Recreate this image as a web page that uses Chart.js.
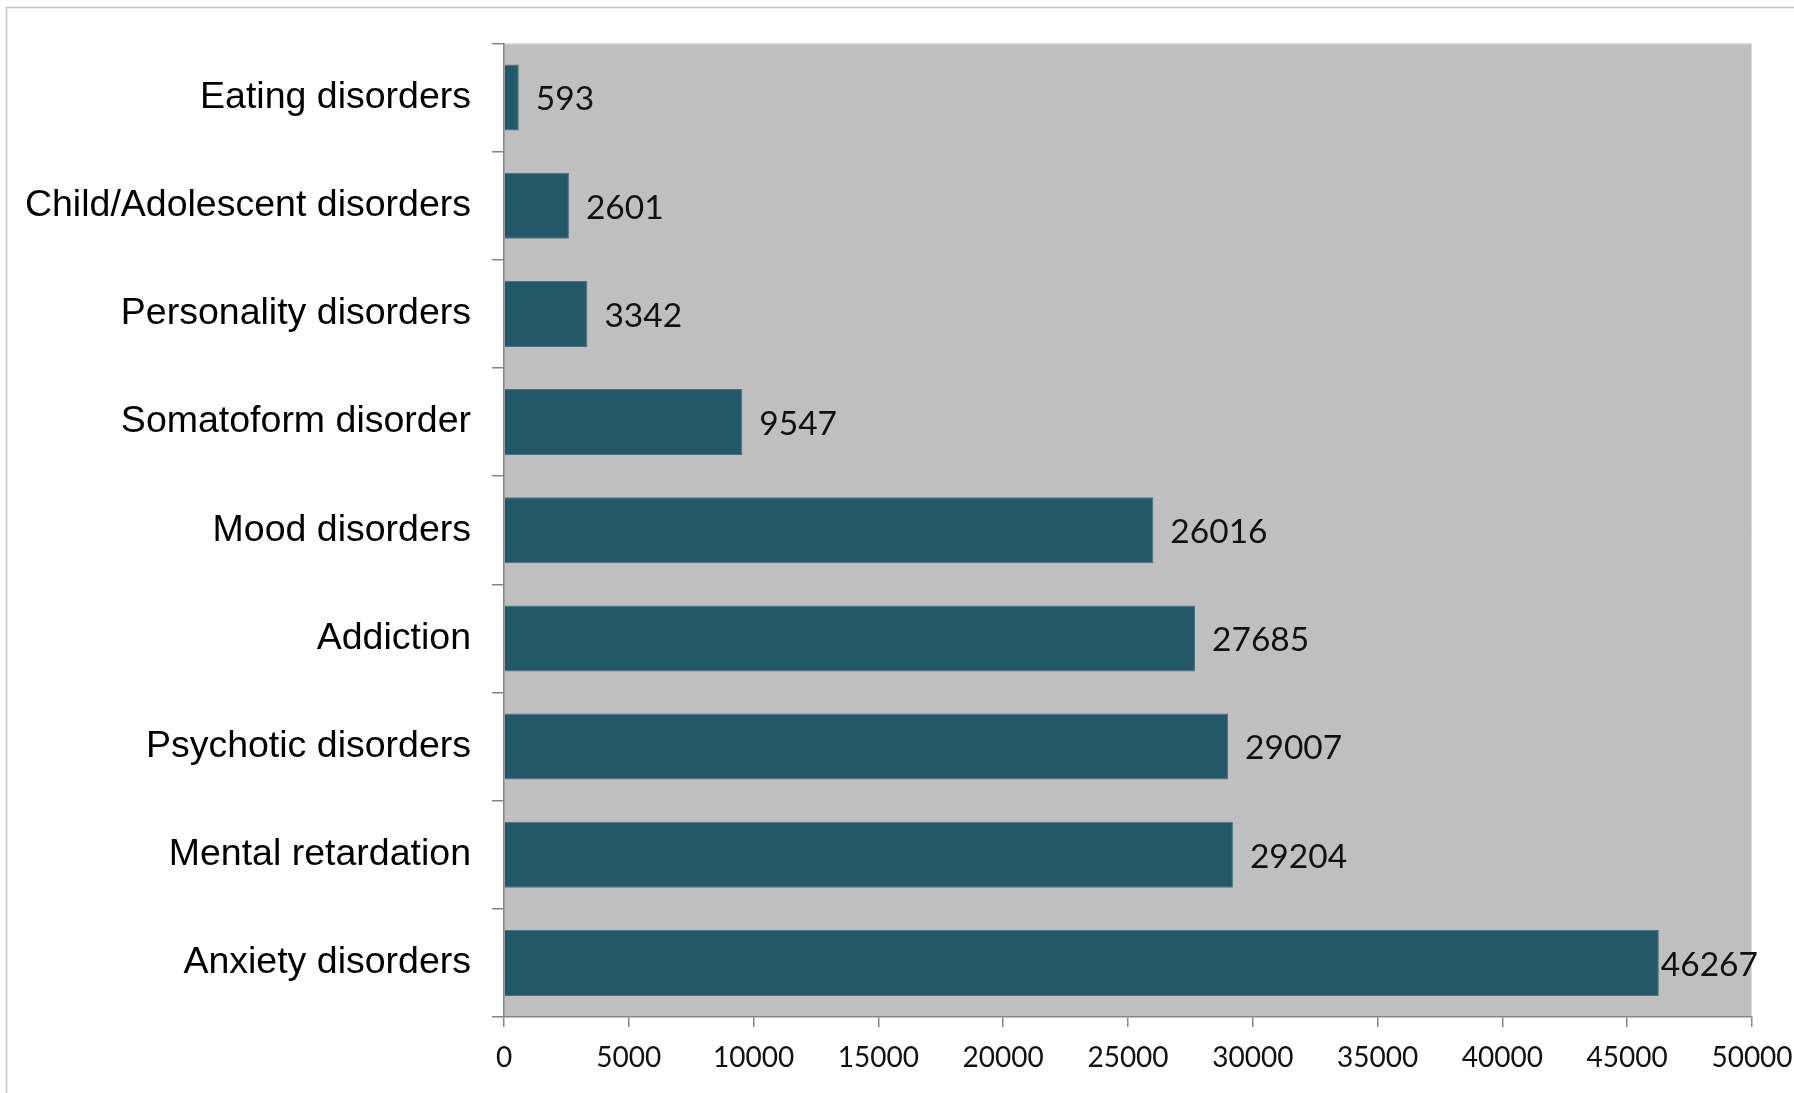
<!DOCTYPE html>
<html>
<head>
<meta charset="utf-8">
<script src="https://cdn.jsdelivr.net/npm/chart.js@4.4.0/dist/chart.umd.min.js"></script>
<style>
  html, body { margin: 0; padding: 0; background: #fff; }
  #wrap { width: 1794px; height: 1093px; }
</style>
</head>
<body>
<div id="wrap"><canvas id="disorderChart" width="1794" height="1093"></canvas></div>
<script>
// categories, top to bottom
const categories = [
    'Eating disorders',
    'Child/Adolescent disorders',
    'Personality disorders',
    'Somatoform disorder',
    'Mood disorders',
    'Addiction',
    'Psychotic disorders',
    'Mental retardation',
    'Anxiety disorders'
];
const patientCounts = [593, 2601, 3342, 9547, 26016, 27685, 29007, 29204, 46267];
const xTicks = [0, 5000, 10000, 15000, 20000, 25000, 30000, 35000, 40000, 45000, 50000];

const axisGray = '#868686';

// white page + thin outer frame + grey plot background
const backdrop = {
    id: 'backdrop',
    beforeDraw(chart) {
        const { ctx, chartArea: a, width, height } = chart;
        ctx.save();
        ctx.fillStyle = '#ffffff';
        ctx.fillRect(0, 0, width, height);
        ctx.strokeStyle = '#c3c3c3';
        ctx.lineWidth = 1.5;
        ctx.beginPath();
        ctx.moveTo(6.5, height);
        ctx.lineTo(6.5, 7.5);
        ctx.lineTo(width, 7.5);
        ctx.stroke();
        ctx.fillStyle = '#bfbfbf';
        ctx.fillRect(a.left, a.top, a.right - a.left, a.bottom - a.top);
        ctx.strokeStyle = '#d9d9d9';
        ctx.lineWidth = 1;
        ctx.beginPath();
        ctx.moveTo(a.left, a.top + 0.5);
        ctx.lineTo(a.right - 0.5, a.top + 0.5);
        ctx.lineTo(a.right - 0.5, a.bottom);
        ctx.stroke();
        ctx.restore();
    }
};

// value labels at the end of each bar (pulled in when they'd run off the plot)
const valueLabels = {
    id: 'valueLabels',
    afterDatasetsDraw(chart) {
        const { ctx, chartArea } = chart;
        const meta = chart.getDatasetMeta(0);
        ctx.save();
        ctx.font = '33.5px Lato';
        ctx.fillStyle = '#111';
        ctx.textBaseline = 'middle';
        ctx.textAlign = 'left';
        meta.data.forEach((bar, i) => {
            const txt = String(patientCounts[i]);
            const w = ctx.measureText(txt).width;
            let x = Math.min(bar.x + 17, chartArea.right - w + 5);
            x = Math.max(x, bar.x + 2);
            ctx.fillText(txt, x, bar.y + 2);
        });
        ctx.restore();
    }
};

new Chart(document.getElementById('disorderChart'), {
    type: 'bar',
    data: {
        labels: categories,
        datasets: [{
            data: patientCounts,
            backgroundColor: '#225868',
            borderColor: '#4a7580',
            borderWidth: 1,
            categoryPercentage: 1,
            barPercentage: 0.61
        }]
    },
    options: {
        indexAxis: 'y',
        responsive: false,
        animation: false,
        layout: { padding: { top: 42, right: 42, left: 0, bottom: 0 } },
        plugins: {
            legend: { display: false },
            tooltip: { enabled: false }
        },
        scales: {
            x: {
                min: 0,
                max: 50000,
                afterBuildTicks(scale) {
                    scale.ticks = xTicks.map(v => ({ value: v }));
                },
                afterFit(scale) {
                    scale.height = 76;
                    scale.paddingLeft = 0;
                    scale.paddingRight = 0;
                },
                border: { color: axisGray, width: 1.5 },
                grid: { drawOnChartArea: false, color: axisGray, tickLength: 10, lineWidth: 1.5 },
                ticks: {
                    color: '#111',
                    font: { family: 'Lato', size: 28 },
                    padding: 14,
                    maxRotation: 0,
                    callback: v => String(v)
                }
            },
            y: {
                offset: true,
                afterFit(scale) { scale.width = 504; },
                border: { color: axisGray, width: 1.5 },
                grid: { offset: true, drawOnChartArea: false, color: axisGray, tickLength: 12, lineWidth: 1.5 },
                ticks: {
                    color: '#000',
                    font: { family: 'Liberation Sans', size: 37.5 },
                    padding: 21
                }
            }
        }
    },
    plugins: [backdrop, valueLabels]
});
</script>
</body>
</html>
